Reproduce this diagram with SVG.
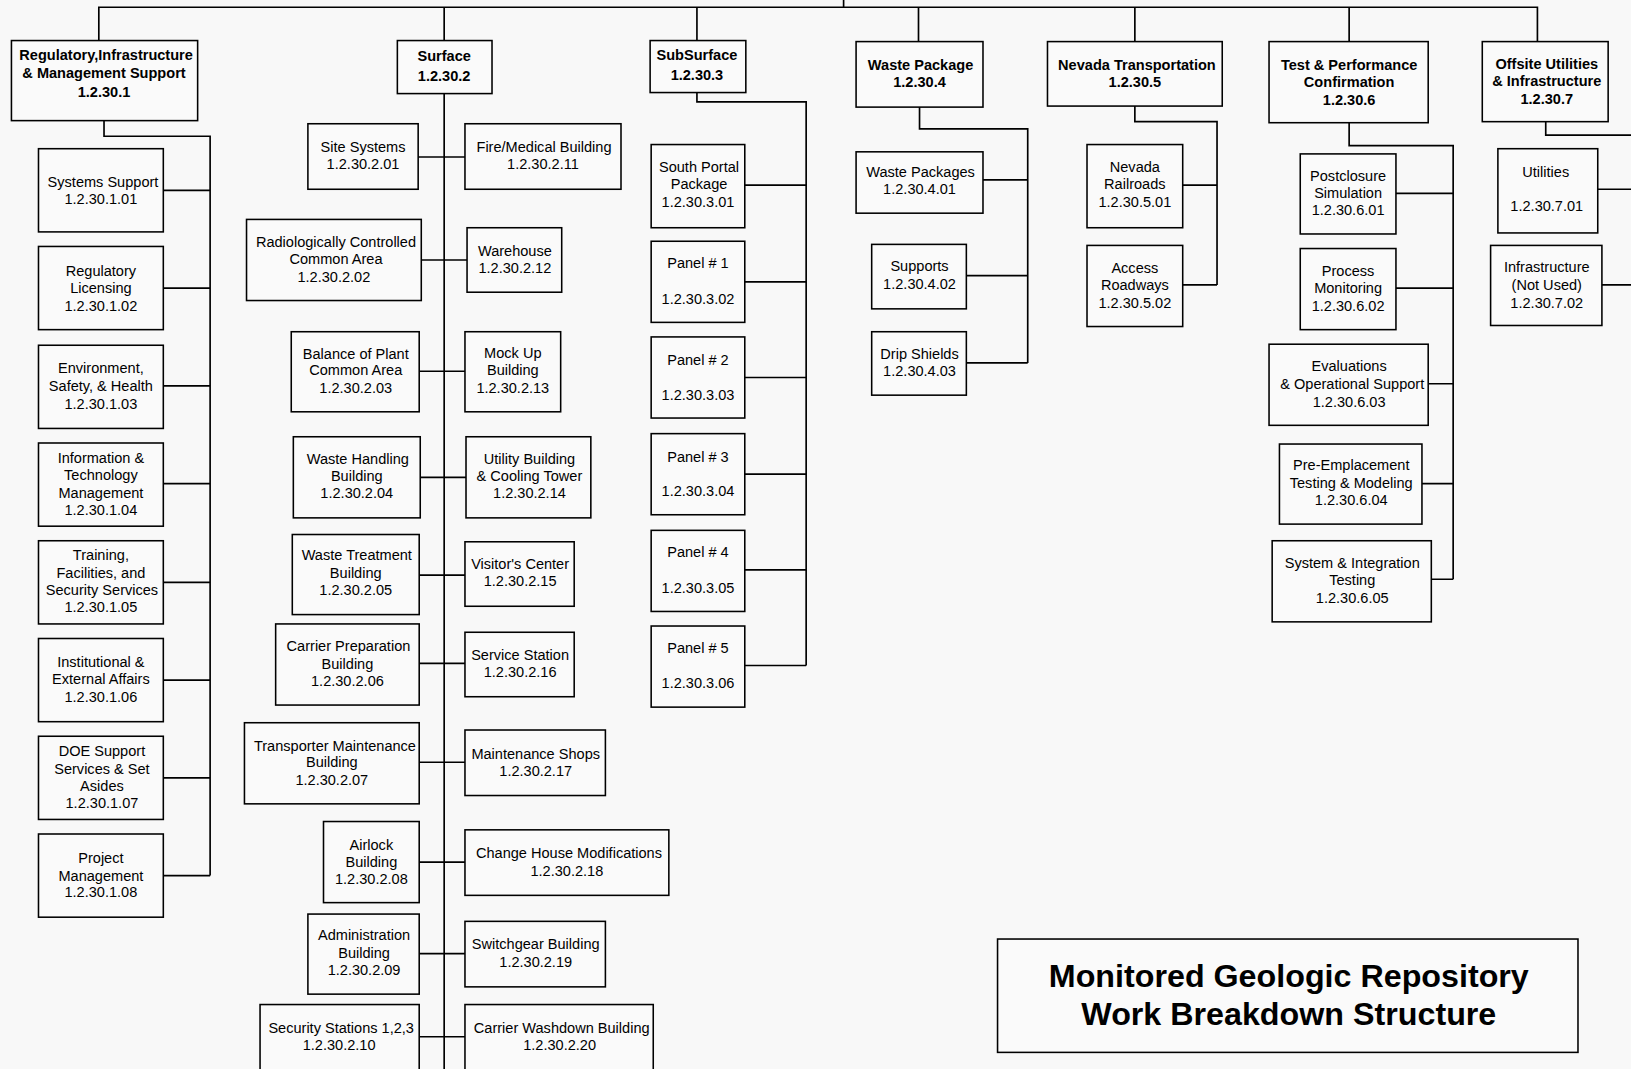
<svg xmlns="http://www.w3.org/2000/svg" width="1631" height="1069" viewBox="0 0 1631 1069">
<style>
.n rect{fill:#fafafa;stroke:#000;stroke-width:1.5}
text{font-family:"Liberation Sans",Arial,sans-serif;font-size:14px;text-anchor:middle;fill:#000}
.h text{font-weight:bold}
#connectors path{fill:none;stroke:#000;stroke-width:1.6}
#title text{font-size:31px;font-weight:bold}
</style>
<rect x="0" y="0" width="1631" height="1069" fill="#f8f8f8"/>
<g transform="scale(1.0402,1.0399)">
<g id="connectors">
<path d="M95,39V7H1478V40M811,0V7M427,7V39M670,7V39M883,7V40M1091,7V40M1297,7V40"/>
<path d="M100,116V131H202V842M157,183H202M157,277H202M157,371H202M157,465H202M157,560H202M157,654H202M157,748H202M157,842H202"/>
<path d="M427,90V1030M402,151H447M405,250H449M403,357H447M404,459H448M403,553H447M403,638H447M403,733H447M403,829H447M403,917H447M403,997H447"/>
<path d="M670,89V98H775V640M716,178H775M716,271H775M716,363H775M716,456H775M716,548H775M716,640H775"/>
<path d="M884,103V124H988V349M945,173H988M929,265H988M929,349H988"/>
<path d="M1091,102V117H1170V274M1137,178H1170M1137,274H1170"/>
<path d="M1297,118V140H1397V557M1342,186H1397M1342,277H1397M1373,369H1397M1367,465H1397M1376,557H1397"/>
<path d="M1486,117V130H1570M1536,182H1570M1540,274H1570"/>
</g>

<g id="n1" class="n h"><rect x="11" y="39" width="179" height="77"/><text x="101"><tspan x="102" y="58">Regulatory,Infrastructure</tspan><tspan x="100" y="75">&amp; Management Support</tspan><tspan x="100" y="93">1.2.30.1</tspan></text></g>
<g id="n2" class="n h"><rect x="382" y="39" width="91" height="51"/><text><tspan x="427" y="59">Surface</tspan><tspan x="427" y="78">1.2.30.2</tspan></text></g>
<g id="n3" class="n h"><rect x="625" y="39" width="92" height="50"/><text><tspan x="670" y="58">SubSurface</tspan><tspan x="670" y="77">1.2.30.3</tspan></text></g>
<g id="n4" class="n h"><rect x="823" y="40" width="122" height="63"/><text><tspan x="885" y="67">Waste Package</tspan><tspan x="884" y="84">1.2.30.4</tspan></text></g>
<g id="n5" class="n h"><rect x="1007" y="40" width="168" height="62"/><text><tspan x="1093" y="67">Nevada Transportation</tspan><tspan x="1091" y="84">1.2.30.5</tspan></text></g>
<g id="n6" class="n h"><rect x="1220" y="40" width="153" height="78"/><text><tspan x="1297" y="67">Test &amp; Performance</tspan><tspan x="1297" y="84">Confirmation</tspan><tspan x="1297" y="101">1.2.30.6</tspan></text></g>
<g id="n7" class="n h"><rect x="1425" y="40" width="121" height="77"/><text><tspan x="1487" y="66">Offsite Utilities</tspan><tspan x="1487" y="83">&amp; Infrastructure</tspan><tspan x="1487" y="100">1.2.30.7</tspan></text></g>

<g id="n1-01" class="n"><rect x="37" y="143" width="120" height="80"/><text><tspan x="99" y="180">Systems Support</tspan><tspan x="97" y="196">1.2.30.1.01</tspan></text></g>
<g id="n1-02" class="n"><rect x="37" y="237" width="120" height="80"/><text><tspan x="97" y="265">Regulatory</tspan><tspan x="97" y="282">Licensing</tspan><tspan x="97" y="299">1.2.30.1.02</tspan></text></g>
<g id="n1-03" class="n"><rect x="37" y="332" width="120" height="80"/><text><tspan x="97" y="359">Environment,</tspan><tspan x="97" y="376">Safety, &amp; Health</tspan><tspan x="97" y="393">1.2.30.1.03</tspan></text></g>
<g id="n1-04" class="n"><rect x="37" y="426" width="120" height="80"/><text><tspan x="97" y="445">Information &amp;</tspan><tspan x="97" y="462">Technology</tspan><tspan x="97" y="479">Management</tspan><tspan x="97" y="495">1.2.30.1.04</tspan></text></g>
<g id="n1-05" class="n"><rect x="37" y="520" width="120" height="80"/><text><tspan x="97" y="539">Training,</tspan><tspan x="97" y="556">Facilities, and</tspan><tspan x="98" y="572">Security Services</tspan><tspan x="97" y="589">1.2.30.1.05</tspan></text></g>
<g id="n1-06" class="n"><rect x="37" y="614" width="120" height="80"/><text><tspan x="97" y="641">Institutional &amp;</tspan><tspan x="97" y="658">External Affairs</tspan><tspan x="97" y="675">1.2.30.1.06</tspan></text></g>
<g id="n1-07" class="n"><rect x="37" y="708" width="120" height="80"/><text><tspan x="98" y="727">DOE Support</tspan><tspan x="98" y="744">Services &amp; Set</tspan><tspan x="98" y="761">Asides</tspan><tspan x="98" y="777">1.2.30.1.07</tspan></text></g>
<g id="n1-08" class="n"><rect x="37" y="802" width="120" height="80"/><text><tspan x="97" y="830">Project</tspan><tspan x="97" y="847">Management</tspan><tspan x="97" y="863">1.2.30.1.08</tspan></text></g>

<g id="n2-01" class="n"><rect x="296" y="119" width="106" height="63"/><text><tspan x="349" y="146">Site Systems</tspan><tspan x="349" y="163">1.2.30.2.01</tspan></text></g>
<g id="n2-02" class="n"><rect x="237" y="211" width="168" height="78"/><text><tspan x="323" y="238">Radiologically Controlled</tspan><tspan x="323" y="254">Common Area</tspan><tspan x="321" y="271">1.2.30.2.02</tspan></text></g>
<g id="n2-03" class="n"><rect x="280" y="319" width="123" height="77"/><text><tspan x="342" y="345">Balance of Plant</tspan><tspan x="342" y="361">Common Area</tspan><tspan x="342" y="378">1.2.30.2.03</tspan></text></g>
<g id="n2-04" class="n"><rect x="282" y="420" width="122" height="78"/><text><tspan x="344" y="446">Waste Handling</tspan><tspan x="343" y="463">Building</tspan><tspan x="343" y="479">1.2.30.2.04</tspan></text></g>
<g id="n2-05" class="n"><rect x="281" y="514" width="122" height="77"/><text><tspan x="343" y="539">Waste Treatment</tspan><tspan x="342" y="556">Building</tspan><tspan x="342" y="572">1.2.30.2.05</tspan></text></g>
<g id="n2-06" class="n"><rect x="265" y="600" width="138" height="78"/><text><tspan x="335" y="626">Carrier Preparation</tspan><tspan x="334" y="643">Building</tspan><tspan x="334" y="660">1.2.30.2.06</tspan></text></g>
<g id="n2-07" class="n"><rect x="235" y="695" width="168" height="78"/><text><tspan x="322" y="722">Transporter Maintenance</tspan><tspan x="319" y="738">Building</tspan><tspan x="319" y="755">1.2.30.2.07</tspan></text></g>
<g id="n2-08" class="n"><rect x="311" y="790" width="92" height="78"/><text><tspan x="357" y="817">Airlock</tspan><tspan x="357" y="834">Building</tspan><tspan x="357" y="850">1.2.30.2.08</tspan></text></g>
<g id="n2-09" class="n"><rect x="296" y="879" width="107" height="77"/><text><tspan x="350" y="904">Administration</tspan><tspan x="350" y="921">Building</tspan><tspan x="350" y="938">1.2.30.2.09</tspan></text></g>
<g id="n2-10" class="n"><rect x="250" y="966" width="153" height="70"/><text><tspan x="328" y="993">Security Stations 1,2,3</tspan><tspan x="326" y="1010">1.2.30.2.10</tspan></text></g>

<g id="n2-11" class="n"><rect x="447" y="119" width="150" height="63"/><text><tspan x="523" y="146">Fire/Medical Building</tspan><tspan x="522" y="163">1.2.30.2.11</tspan></text></g>
<g id="n2-12" class="n"><rect x="449" y="219" width="91" height="62"/><text><tspan x="495" y="246">Warehouse</tspan><tspan x="495" y="263">1.2.30.2.12</tspan></text></g>
<g id="n2-13" class="n"><rect x="447" y="319" width="92" height="77"/><text><tspan x="493" y="344">Mock Up</tspan><tspan x="493" y="361">Building</tspan><tspan x="493" y="378">1.2.30.2.13</tspan></text></g>
<g id="n2-14" class="n"><rect x="448" y="420" width="120" height="78"/><text><tspan x="509" y="446">Utility Building</tspan><tspan x="509" y="463">&amp; Cooling Tower</tspan><tspan x="509" y="479">1.2.30.2.14</tspan></text></g>
<g id="n2-15" class="n"><rect x="447" y="521" width="105" height="62"/><text><tspan x="500" y="547">Visitor's Center</tspan><tspan x="500" y="564">1.2.30.2.15</tspan></text></g>
<g id="n2-16" class="n"><rect x="447" y="608" width="105" height="62"/><text><tspan x="500" y="635">Service Station</tspan><tspan x="500" y="651">1.2.30.2.16</tspan></text></g>
<g id="n2-17" class="n"><rect x="447" y="702" width="135" height="63"/><text><tspan x="515" y="730">Maintenance Shops</tspan><tspan x="515" y="746">1.2.30.2.17</tspan></text></g>
<g id="n2-18" class="n"><rect x="447" y="798" width="196" height="63"/><text><tspan x="547" y="825">Change House Modifications</tspan><tspan x="545" y="842">1.2.30.2.18</tspan></text></g>
<g id="n2-19" class="n"><rect x="447" y="886" width="135" height="63"/><text><tspan x="515" y="913">Switchgear Building</tspan><tspan x="515" y="930">1.2.30.2.19</tspan></text></g>
<g id="n2-20" class="n"><rect x="447" y="966" width="181" height="70"/><text><tspan x="540" y="993">Carrier Washdown Building</tspan><tspan x="538" y="1010">1.2.30.2.20</tspan></text></g>

<g id="n3-01" class="n"><rect x="626" y="139" width="90" height="80"/><text><tspan x="672" y="165">South Portal</tspan><tspan x="672" y="182">Package</tspan><tspan x="671" y="199">1.2.30.3.01</tspan></text></g>
<g id="n3-02" class="n"><rect x="626" y="232" width="90" height="78"/><text><tspan x="671" y="258">Panel # 1</tspan><tspan x="671" y="292">1.2.30.3.02</tspan></text></g>
<g id="n3-03" class="n"><rect x="626" y="324" width="90" height="78"/><text><tspan x="671" y="351">Panel # 2</tspan><tspan x="671" y="385">1.2.30.3.03</tspan></text></g>
<g id="n3-04" class="n"><rect x="626" y="417" width="90" height="78"/><text><tspan x="671" y="444">Panel # 3</tspan><tspan x="671" y="477">1.2.30.3.04</tspan></text></g>
<g id="n3-05" class="n"><rect x="626" y="510" width="90" height="78"/><text><tspan x="671" y="536">Panel # 4</tspan><tspan x="671" y="570">1.2.30.3.05</tspan></text></g>
<g id="n3-06" class="n"><rect x="626" y="602" width="90" height="78"/><text><tspan x="671" y="628">Panel # 5</tspan><tspan x="671" y="662">1.2.30.3.06</tspan></text></g>

<g id="n4-01" class="n"><rect x="823" y="146" width="122" height="59"/><text><tspan x="885" y="170">Waste Packages</tspan><tspan x="884" y="187">1.2.30.4.01</tspan></text></g>
<g id="n4-02" class="n"><rect x="838" y="235" width="91" height="62"/><text><tspan x="884" y="261">Supports</tspan><tspan x="884" y="278">1.2.30.4.02</tspan></text></g>
<g id="n4-03" class="n"><rect x="838" y="319" width="91" height="61"/><text><tspan x="884" y="345">Drip Shields</tspan><tspan x="884" y="362">1.2.30.4.03</tspan></text></g>

<g id="n5-01" class="n"><rect x="1045" y="139" width="92" height="80"/><text><tspan x="1091" y="165">Nevada</tspan><tspan x="1091" y="182">Railroads</tspan><tspan x="1091" y="199">1.2.30.5.01</tspan></text></g>
<g id="n5-02" class="n"><rect x="1045" y="236" width="92" height="78"/><text><tspan x="1091" y="263">Access</tspan><tspan x="1091" y="279">Roadways</tspan><tspan x="1091" y="296">1.2.30.5.02</tspan></text></g>

<g id="n6-01" class="n"><rect x="1250" y="148" width="92" height="77"/><text><tspan x="1296" y="174">Postclosure</tspan><tspan x="1296" y="190">Simulation</tspan><tspan x="1296" y="207">1.2.30.6.01</tspan></text></g>
<g id="n6-02" class="n"><rect x="1250" y="239" width="92" height="78"/><text><tspan x="1296" y="265">Process</tspan><tspan x="1296" y="282">Monitoring</tspan><tspan x="1296" y="299">1.2.30.6.02</tspan></text></g>
<g id="n6-03" class="n"><rect x="1220" y="331" width="153" height="78"/><text><tspan x="1297" y="357">Evaluations</tspan><tspan x="1300" y="374">&amp; Operational Support</tspan><tspan x="1297" y="391">1.2.30.6.03</tspan></text></g>
<g id="n6-04" class="n"><rect x="1230" y="427" width="137" height="77"/><text><tspan x="1299" y="452">Pre-Emplacement</tspan><tspan x="1299" y="469">Testing &amp; Modeling</tspan><tspan x="1299" y="486">1.2.30.6.04</tspan></text></g>
<g id="n6-05" class="n"><rect x="1223" y="520" width="153" height="78"/><text><tspan x="1300" y="546">System &amp; Integration</tspan><tspan x="1300" y="563">Testing</tspan><tspan x="1300" y="580">1.2.30.6.05</tspan></text></g>

<g id="n7-01" class="n"><rect x="1440" y="143" width="96" height="81"/><text><tspan x="1486" y="170">Utilities</tspan><tspan x="1487" y="203">1.2.30.7.01</tspan></text></g>
<g id="n7-02" class="n"><rect x="1433" y="236" width="107" height="77"/><text><tspan x="1487" y="262">Infrastructure</tspan><tspan x="1487" y="279">(Not Used)</tspan><tspan x="1487" y="296">1.2.30.7.02</tspan></text></g>

<g id="title" class="n"><rect x="959" y="903" width="558" height="109"/><text><tspan x="1239" y="949">Monitored Geologic Repository</tspan><tspan x="1239" y="986">Work Breakdown Structure</tspan></text></g>
</g>
</svg>
